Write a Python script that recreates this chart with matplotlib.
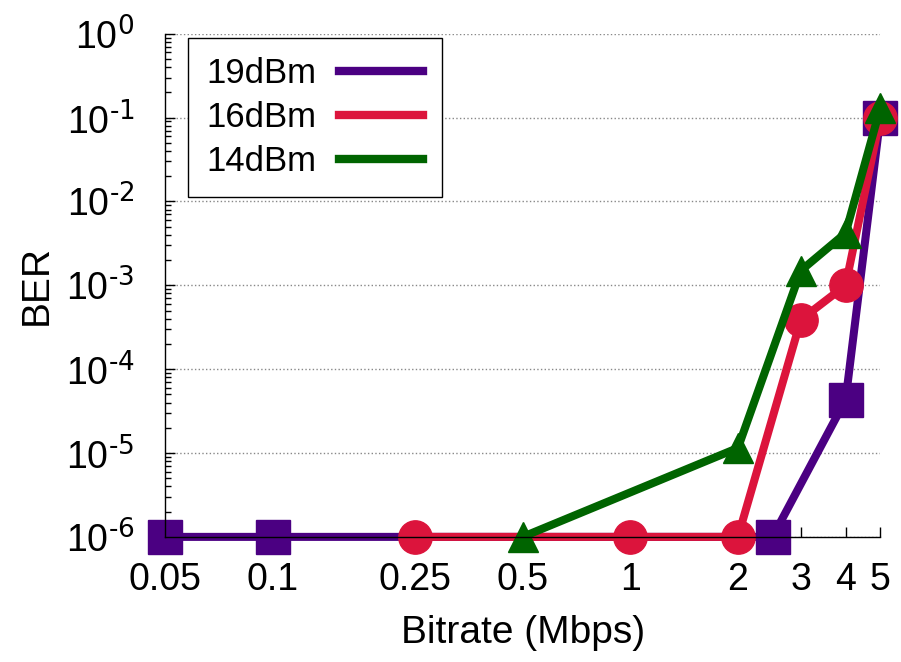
import numpy as np
import matplotlib
matplotlib.use('Agg')
import matplotlib.pyplot as plt
from matplotlib.lines import Line2D
from matplotlib.ticker import FixedLocator, FixedFormatter, LogLocator, NullLocator, FuncFormatter

plt.rcParams['font.family'] = ['Liberation Sans', 'DejaVu Sans']
plt.rcParams['mathtext.default'] = 'regular'

# Data (Bitrate in Mbps, BER)
x_19 = [0.05, 0.1, 2.5, 4, 5]
ber_19 = [1e-6, 1e-6, 1e-6, 4.3e-5, 1e-1]

x_16 = [0.25, 1, 2, 3, 4, 5]
ber_16 = [1e-6, 1e-6, 1e-6, 3.9e-4, 1e-3, 1e-1]

x_14 = [0.5, 2, 3, 4, 5]
ber_14 = [1e-6, 1.15e-5, 1.5e-3, 4.2e-3, 1.3e-1]

labels = ['19dBm', '16dBm', '14dBm']
colors = ['#4b0082', '#dc143c', '#006400']
markers = ['s', 'o', '^']

xticks = [0.05, 0.1, 0.25, 0.5, 1, 2, 3, 4, 5]
xtick_labels = ['0.05', '0.1', '0.25', '0.5', '1', '2', '3', '4', '5']

fig = plt.figure(figsize=(9.01, 6.62), dpi=100)
ax = fig.add_axes([0.183, 0.189, 0.794, 0.760])

series = [(x_19, ber_19), (x_16, ber_16), (x_14, ber_14)]
for i, (xs, ys) in enumerate(series):
    ms = 22 if markers[i] == '^' else 24
    ax.plot(xs, ys, color=colors[i], lw=5.8, marker=markers[i], ms=ms,
            clip_on=False, zorder=3 + i)

ax.set_xscale('log')
ax.set_yscale('log')
ax.set_xlim(0.05, 5)
ax.set_ylim(1e-6, 1)

ax.xaxis.set_major_locator(FixedLocator(xticks))
ax.xaxis.set_major_formatter(FixedFormatter(xtick_labels))
ax.xaxis.set_minor_locator(NullLocator())

ax.yaxis.set_major_locator(LogLocator(base=10, numticks=20))
ax.yaxis.set_minor_locator(LogLocator(base=10, subs=np.arange(2, 10), numticks=20))
ax.yaxis.set_major_formatter(FuncFormatter(
    lambda v, p: r'10$^{\text{%d}}$' % int(round(np.log10(v)))))

ax.tick_params(axis='both', which='major', direction='in', length=7, width=1, labelsize=27)
ax.tick_params(axis='y', which='major', pad=22)
ax.tick_params(axis='x', which='major', pad=18)
ax.tick_params(axis='y', which='minor', direction='in', length=4, width=1)

for s in ['top', 'right']:
    ax.spines[s].set_visible(False)
for s in ['left', 'bottom']:
    ax.spines[s].set_zorder(10)
    ax.spines[s].set_linewidth(1)

ax.yaxis.grid(True, which='major', linestyle=':', color='#888888', lw=1)
ax.set_axisbelow(True)

ax.set_xlabel('Bitrate (Mbps)', fontsize=28, labelpad=12)
ax.set_ylabel('BER', fontsize=28, labelpad=8)

handles = [Line2D([], [], color=c, lw=6) for c in colors]
leg = ax.legend(handles, labels, loc='upper left', bbox_to_anchor=(0.032, 0.992),
                borderaxespad=0, fontsize=25, markerfirst=False, handlelength=2.4,
                handletextpad=0.65, fancybox=False, edgecolor='black', framealpha=1,
                borderpad=0.55, labelspacing=0.32)
leg.get_frame().set_linewidth(1)
leg.set_zorder(20)

fig.savefig('out.png', dpi=100)
